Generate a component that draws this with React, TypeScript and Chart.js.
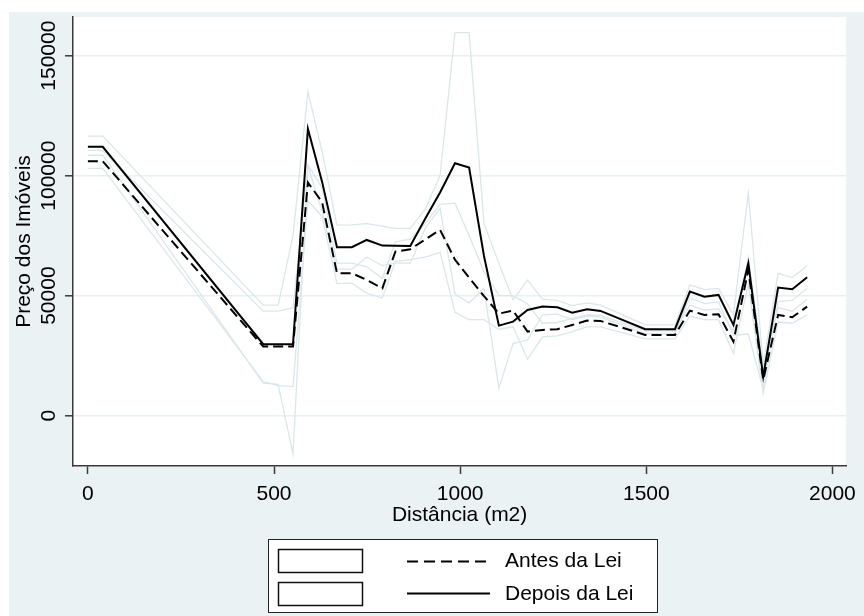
import React, { useEffect, useRef } from "react";
import { Chart, registerables } from "chart.js";

Chart.register(...registerables);

// ---- Data ----
const distancia = [0, 40, 471, 511, 551, 591, 629, 669, 709, 749, 791, 826, 866, 906, 946, 986, 1024, 1064, 1104, 1142, 1181, 1221, 1261, 1301, 1341, 1377, 1497, 1577, 1617, 1656, 1694, 1734, 1774, 1814, 1854, 1892, 1932];

const depois = [112000, 112000, 29750, 29750, 29750, 119500, 97500, 70150, 70150, 73200, 70850, 70800, 70700, 82000, 93000, 105150, 103350, 66500, 37500, 39170, 44040, 45420, 45140, 42920, 44320, 43630, 36000, 36000, 51670, 49580, 50290, 37790, 63500, 16250, 53330, 52670, 57670];

const antes = [106000, 106000, 28750, 28750, 28750, 97100, 89000, 59330, 59330, 56540, 53080, 68330, 69330, 73400, 77400, 65000, 57500, 49800, 42500, 43750, 35000, 35710, 36000, 37790, 39580, 39460, 33630, 33630, 43750, 41960, 42250, 30830, 60710, 14870, 41960, 41000, 45420];

const depoisUpper = [116500, 116500, 46000, 46000, 75000, 135000, 110000, 79400, 79500, 80000, 79000, 78000, 78000, 86000, 100000, 159600, 159600, 80000, 63500, 48200, 56500, 48500, 48000, 45800, 47000, 46000, 37800, 37800, 54500, 52500, 53000, 42000, 92700, 21500, 59300, 57500, 62400];

const depoisLower = [108500, 108500, 13500, 13000, -16000, 104000, 85000, 61000, 61000, 66000, 62500, 63500, 63500, 78000, 86500, 50700, 47000, 53000, 11400, 30000, 31500, 42000, 42300, 40000, 41500, 41000, 34200, 34200, 49000, 46700, 47500, 33500, 34000, 11000, 47500, 48000, 53000];

const antesUpper = [110500, 110500, 43500, 43500, 45000, 104500, 95000, 63500, 63500, 62000, 57200, 72400, 73500, 80000, 88000, 88500, 75000, 60000, 50000, 50000, 46500, 38500, 38800, 40500, 42000, 41800, 35300, 35300, 46000, 44000, 44500, 35500, 66000, 20500, 45000, 43500, 48500];

const antesLower = [103000, 103000, 14200, 12500, 12100, 89500, 83000, 55000, 55200, 51000, 49000, 64200, 65000, 66000, 68000, 43000, 40000, 40000, 36000, 37000, 23500, 32800, 33200, 35000, 37000, 37000, 32000, 32000, 41500, 40000, 40000, 26000, 55000, 9300, 39000, 38500, 42000];

const xTickValues = [0, 500, 1000, 1500, 2000];
const yTickValues = [0, 50000, 100000, 150000];
const xTitle = "Distância (m2)";
const yTitle = "Preço dos Imóveis";
const legendLabels = ["Antes da Lei", "Depois da Lei"];

// ---- Styles ----
const FONT = '"Liberation Sans", Arial, Helvetica, sans-serif';
const BG = "#EAF2F3";
const GRID = "#E8F0F2";
const CI = "#DAE7EA";
const AXIS = "#3a3a3a";

const pts = (ys: number[]) => distancia.map((x, i) => ({ x, y: ys[i] }));

const backgroundPlugin = {
  id: "stataBackground",
  beforeDraw(chart: any) {
    const { ctx, chartArea } = chart;
    ctx.save();
    ctx.fillStyle = "#ffffff";
    ctx.fillRect(0, 0, chart.width, chart.height);
    ctx.fillStyle = BG;
    ctx.fillRect(9, 12, chart.width - 9, chart.height - 12);
    ctx.fillStyle = "#ffffff";
    ctx.fillRect(chartArea.left, chartArea.top, chartArea.right - chartArea.left, chartArea.bottom - chartArea.top);
    ctx.restore();
  },
};

const legendPlugin = {
  id: "stataLegend",
  afterDraw(chart: any) {
    const ctx = chart.ctx;
    ctx.save();
    const bx = 268, by = 539, bw = 390, bh = 74;
    ctx.fillStyle = "#ffffff";
    ctx.fillRect(bx, by, bw, bh);
    ctx.strokeStyle = "#222";
    ctx.lineWidth = 1;
    ctx.strokeRect(bx + 0.5, by + 0.5, bw - 1, bh - 1);
    const rowsY = [560.5, 593];
    legendLabels.forEach((label, i) => {
      const y = rowsY[i];
      ctx.strokeStyle = "#111";
      ctx.lineWidth = 1.5;
      ctx.setLineDash([]);
      ctx.strokeRect(278.5, Math.round(y - 11.5) + 0.5, 84, 23);
      ctx.beginPath();
      ctx.lineWidth = 2;
      ctx.strokeStyle = "#000";
      ctx.setLineDash(i === 0 ? [11, 6] : []);
      ctx.moveTo(407, Math.round(y) + 0.5);
      ctx.lineTo(490, Math.round(y) + 0.5);
      ctx.stroke();
      ctx.setLineDash([]);
      ctx.fillStyle = "#000";
      ctx.font = `21px ${FONT}`;
      ctx.textAlign = "left";
      ctx.textBaseline = "middle";
      ctx.fillText(label, 505, y + 1);
    });
    ctx.restore();
  },
};

export default function App() {
  const ref = useRef<HTMLCanvasElement>(null);

  useEffect(() => {
    const canvas = ref.current;
    if (!canvas) return;
    const ciStyle = {
      borderColor: CI,
      borderWidth: 1.3,
      pointRadius: 0,
      tension: 0,
      fill: false,
    };
    const chart = new Chart(canvas, {
      type: "line",
      data: {
        datasets: [
          {
            label: legendLabels[1],
            data: pts(depois),
            borderColor: "#000",
            borderWidth: 2,
            pointRadius: 0,
            tension: 0,
            fill: false,
          },
          {
            label: legendLabels[0],
            data: pts(antes),
            borderColor: "#000",
            borderWidth: 2,
            borderDash: [10, 5],
            pointRadius: 0,
            tension: 0,
            fill: false,
          },
          { label: "IC superior depois", data: pts(depoisUpper), ...ciStyle },
          { label: "IC inferior depois", data: pts(depoisLower), ...ciStyle },
          { label: "IC superior antes", data: pts(antesUpper), ...ciStyle },
          { label: "IC inferior antes", data: pts(antesLower), ...ciStyle },
        ],
      },
      options: {
        responsive: false,
        animation: false,
        events: [],
        devicePixelRatio: 1,
        layout: { padding: { left: 0, top: 17, right: 11, bottom: 0 } },
        plugins: {
          legend: { display: false },
          tooltip: { enabled: false },
          title: { display: false },
        },
        scales: {
          x: {
            type: "linear",
            min: -40,
            max: 2037,
            afterBuildTicks: (scale: any) => {
              scale.ticks = xTickValues.map((v) => ({ value: v }));
            },
            afterFit: (scale: any) => {
              scale.height = 150;
            },
            border: { display: true, color: AXIS, width: 1.5 },
            grid: {
              drawOnChartArea: false,
              drawTicks: true,
              tickLength: 8,
              tickColor: AXIS,
              tickWidth: 1.5,
            },
            ticks: {
              color: "#000",
              font: { family: FONT, size: 21 },
              padding: 8,
              maxRotation: 0,
              minRotation: 0,
              callback: (v: any) => String(v),
            },
            title: {
              display: true,
              text: xTitle,
              color: "#000",
              font: { family: FONT, size: 21 },
              padding: { top: 0, bottom: 88 },
            },
          },
          y: {
            type: "linear",
            min: -21000,
            max: 166100,
            afterBuildTicks: (scale: any) => {
              scale.ticks = yTickValues.map((v) => ({ value: v }));
            },
            afterFit: (scale: any) => {
              scale.width = 73;
            },
            border: { display: true, color: AXIS, width: 1.5 },
            grid: {
              color: GRID,
              lineWidth: 1.6,
              drawTicks: true,
              tickLength: 8,
              tickColor: AXIS,
              tickWidth: 1.5,
            },
            ticks: {
              color: "#000",
              font: { family: FONT, size: 21 },
              minRotation: 90,
              maxRotation: 90,
              crossAlign: "center",
              padding: -19,
              callback: (v: any) => String(v),
            },
            title: {
              display: true,
              text: yTitle,
              color: "#000",
              font: { family: FONT, size: 21 },
              padding: { top: 12, bottom: 0 },
            },
          },
        },
      },
      plugins: [backgroundPlugin, legendPlugin],
    } as any);
    return () => chart.destroy();
  }, []);

  return (
    <div style={{ position: "absolute", left: 0, top: 0, width: 864, height: 616 }}>
      <canvas ref={ref} width={864} height={616} style={{ display: "block", width: 864, height: 616 }} />
    </div>
  );
}
